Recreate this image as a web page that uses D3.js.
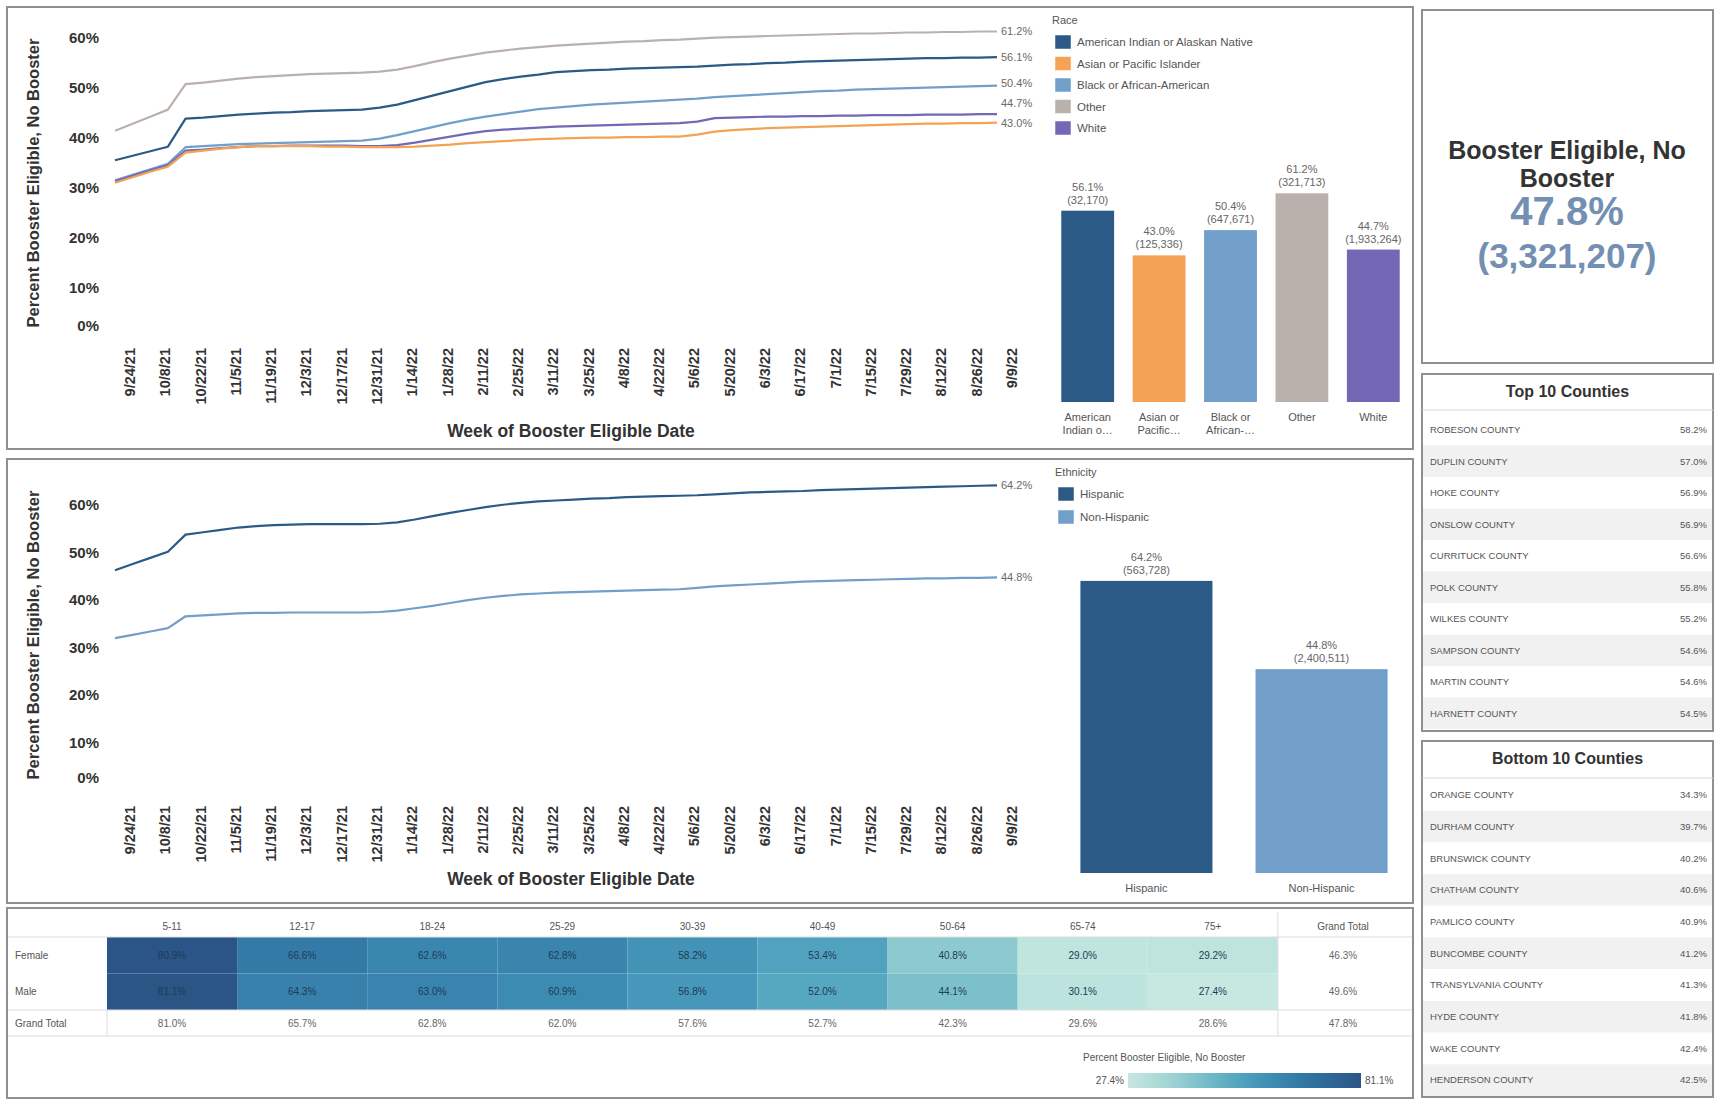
<!DOCTYPE html>
<html><head><meta charset="utf-8">
<script src="https://cdn.jsdelivr.net/npm/d3@7"></script>
<style>
html,body{margin:0;padding:0;background:#fff;}
svg{display:block;font-family:"Liberation Sans",Arial,sans-serif;}
</style></head><body>
<svg id="c" width="1716" height="1103"></svg>
<script>
// ---------------- DATA ----------------
const raceNames = ["American Indian or Alaskan Native","Asian or Pacific Islander","Black or African-American","Other","White"];
const raceBarLabels = [["American","Indian o…"],["Asian or","Pacific…"],["Black or","African-…"],["Other"],["White"]];
const raceColors = ["#2b5a86","#f4a253","#719fca","#bab1ac","#7468b6"];
const raceAIAN = [35.5,36.4,37.3,38.2,43.8,44.0,44.3,44.6,44.8,45.0, 45.1,45.3,45.4,45.5,45.6,46.0,46.6,47.5,48.4,49.3, 50.2,51.1,51.7,52.2,52.6,53.1,53.3,53.5,53.6,53.8, 53.9,54.0,54.1,54.2,54.4,54.6,54.7,54.9,55.0,55.2, 55.3,55.4,55.5,55.6,55.7,55.8,55.9,55.9,56.0,56.0,56.1];
const raceAsian = [31.0,32.1,33.2,34.2,37.0,37.4,37.8,38.1,38.3,38.3, 38.3,38.3,38.2,38.2,38.1,38.1,38.1,38.2,38.4,38.6, 38.9,39.1,39.3,39.5,39.7,39.8,39.9,40.0,40.0,40.1, 40.1,40.2,40.2,40.6,41.2,41.5,41.7,41.9,42.0,42.1, 42.2,42.3,42.4,42.5,42.6,42.7,42.8,42.8,42.9,42.9,43.0];
const raceBlack = [31.5,32.6,33.7,34.8,38.1,38.3,38.5,38.7,38.8,38.9, 39.0,39.1,39.2,39.3,39.4,39.8,40.5,41.3,42.1,42.9, 43.6,44.2,44.7,45.2,45.7,46.0,46.3,46.6,46.8,47.0, 47.2,47.4,47.6,47.8,48.1,48.3,48.5,48.7,48.9,49.1, 49.3,49.4,49.6,49.7,49.8,49.9,50.0,50.1,50.2,50.3,50.4];
const raceOther = [41.4,42.8,44.2,45.6,50.7,51.0,51.4,51.8,52.1,52.3, 52.5,52.7,52.8,52.9,53.0,53.2,53.6,54.3,55.1,55.8, 56.4,57.0,57.4,57.8,58.1,58.4,58.6,58.8,59.0,59.2, 59.3,59.5,59.6,59.8,60.0,60.1,60.2,60.3,60.4,60.5, 60.6,60.7,60.8,60.8,60.9,61.0,61.0,61.1,61.1,61.2,61.2];
const raceWhite = [31.3,32.4,33.5,34.5,37.4,37.6,37.9,38.1,38.3,38.3, 38.4,38.4,38.4,38.4,38.3,38.3,38.5,39.0,39.6,40.2, 40.8,41.3,41.6,41.8,42.0,42.2,42.3,42.4,42.5,42.6, 42.7,42.8,42.9,43.2,43.9,44.0,44.1,44.2,44.2,44.3, 44.3,44.4,44.4,44.5,44.5,44.5,44.6,44.6,44.6,44.7,44.7];
const raceTotalPct = [56.1, 43.0, 50.4, 61.2, 44.7];
const raceTotalCount = ["32,170","125,336","647,671","321,713","1,933,264"];

const ethNames = ["Hispanic","Non-Hispanic"];
const ethColors = ["#2b5a86","#719fca"];
const ethHispanic = [46.3,47.6,48.9,50.2,53.8,54.3,54.8,55.3,55.6,55.8, 55.9,56.0,56.0,56.0,56.0,56.1,56.4,57.0,57.7,58.4, 59.0,59.6,60.1,60.5,60.8,61.0,61.2,61.4,61.5,61.7, 61.8,61.9,62.0,62.1,62.3,62.5,62.7,62.8,62.9,63.0, 63.2,63.3,63.4,63.5,63.6,63.7,63.8,63.9,64.0,64.1,64.2];
const ethNonHispanic = [32.0,32.7,33.4,34.1,36.6,36.8,37.0,37.2,37.3,37.3, 37.4,37.4,37.4,37.4,37.4,37.5,37.8,38.3,38.8,39.4, 40.0,40.5,40.9,41.2,41.4,41.6,41.7,41.8,41.9,42.0, 42.1,42.2,42.3,42.6,42.9,43.1,43.3,43.5,43.7,43.9, 44.0,44.1,44.2,44.3,44.4,44.5,44.6,44.6,44.7,44.7,44.8];
const ethTotalPct = [64.2, 44.8];
const ethTotalCount = ["563,728","2,400,511"];

const firstWeekLabel = "9/24/21";
const weekCount = 51;
const dateTickLabels = ["9/24/21","10/8/21","10/22/21","11/5/21","11/19/21","12/3/21","12/17/21","12/31/21","1/14/22","1/28/22","2/11/22","2/25/22","3/11/22","3/25/22","4/8/22","4/22/22","5/6/22","5/20/22","6/3/22","6/17/22","7/1/22","7/15/22","7/29/22","8/12/22","8/26/22","9/9/22"];
const yTickValues = [0,10,20,30,40,50,60];

const kpiTitle = ["Booster Eligible, No","Booster"];
const kpiPct = 47.8;
const kpiCount = "3,321,207";

const topCounties = ["ROBESON COUNTY","DUPLIN COUNTY","HOKE COUNTY","ONSLOW COUNTY","CURRITUCK COUNTY","POLK COUNTY","WILKES COUNTY","SAMPSON COUNTY","MARTIN COUNTY","HARNETT COUNTY"];
const topPct = [58.2,57.0,56.9,56.9,56.6,55.8,55.2,54.6,54.6,54.5];
const bottomCounties = ["ORANGE COUNTY","DURHAM COUNTY","BRUNSWICK COUNTY","CHATHAM COUNTY","PAMLICO COUNTY","BUNCOMBE COUNTY","TRANSYLVANIA COUNTY","HYDE COUNTY","WAKE COUNTY","HENDERSON COUNTY"];
const bottomPct = [34.3,39.7,40.2,40.6,40.9,41.2,41.3,41.8,42.4,42.5];

const ageGroups = ["5-11","12-17","18-24","25-29","30-39","40-49","50-64","65-74","75+"];
const sexes = ["Female","Male"];
const femalePct = [80.9,66.6,62.6,62.8,58.2,53.4,40.8,29.0,29.2];
const malePct = [81.1,64.3,63.0,60.9,56.8,52.0,44.1,30.1,27.4];
const ageGrandTotal = [81.0,65.7,62.8,62.0,57.6,52.7,42.3,29.6,28.6];
const sexGrandTotal = [46.3,49.6];
const overallTotal = 47.8;
const heatLegendTitle = "Percent Booster Eligible, No Booster";

// ---------------- DRAW ----------------
const svg = d3.select("#c");
const fmt = d => d.toFixed(1) + "%";
const parseDate = d3.timeParse("%m/%d/%y");
const weeks = d3.range(weekCount).map(i => d3.timeDay.offset(parseDate(firstWeekLabel), 7 * i));
const x = d3.scaleTime().domain(d3.extent(weeks)).range([115, 997]);

// panel borders
const panels = [[7,7,1413,449],[7,459,1413,903],[7,908,1413,1098],[1422,10,1713,363],[1422,374,1713,731],[1422,741,1713,1097]];
svg.append("g").selectAll("rect").data(panels).join("rect")
  .attr("x", d => d[0]).attr("y", d => d[1]).attr("width", d => d[2]-d[0]).attr("height", d => d[3]-d[1])
  .attr("fill", "none").attr("stroke", "#8f8f8f").attr("stroke-width", 2);

function drawLineChart(oy, yMax, seriesList, colors, pctEnd, labelDy, titleY) {
  const y = d3.scaleLinear().domain([0, yMax]).range([oy + 338, oy + 20]);
  const g = svg.append("g");
  g.selectAll("text.yt").data(yTickValues).join("text")
    .attr("x", 99).attr("y", d => y(d)).attr("dy", d => d === 0 ? "-0.45em" : "0.35em")
    .attr("text-anchor", "end").attr("font-size", 15).attr("font-weight", "bold").attr("fill", "#333")
    .text(d => d + "%");
  g.append("text").attr("transform", `translate(33,${oy + 183}) rotate(-90)`)
    .attr("text-anchor", "middle").attr("dominant-baseline", "central")
    .attr("font-size", 16.5).attr("font-weight", "bold").attr("fill", "#333")
    .text("Percent Booster Eligible, No Booster");
  g.selectAll("text.xt").data(dateTickLabels).join("text")
    .attr("transform", d => `translate(${x(parseDate(d)) + 15},${oy + 348 + labelDy}) rotate(-90)`)
    .attr("text-anchor", "end").attr("dominant-baseline", "central")
    .attr("font-size", 14.5).attr("font-weight", "bold").attr("fill", "#333")
    .text(d => d);
  g.append("text").attr("x", 571).attr("y", titleY)
    .attr("text-anchor", "middle").attr("font-size", 17.5).attr("font-weight", "bold").attr("fill", "#333")
    .text("Week of Booster Eligible Date");
  const line = d3.line().x((d, i) => x(weeks[i])).y(d => y(d));
  g.selectAll("path.ln").data(seriesList).join("path")
    .attr("d", line).attr("fill", "none")
    .attr("stroke", (d, i) => colors[i]).attr("stroke-width", 2.2).attr("stroke-linejoin", "round");
  const labs = seriesList.map((s, i) => ({ v: pctEnd[i], y: y(s[s.length - 1]) }))
    .sort((a, b) => a.y - b.y);
  for (let i = labs.length - 2; i >= 0; i--) {
    if (labs[i].y > labs[i + 1].y - 20) labs[i].y = labs[i + 1].y - 20;
  }
  g.selectAll("text.el").data(labs).join("text")
    .attr("x", x(weeks[weeks.length - 1]) + 4).attr("y", d => d.y).attr("dy", "0.35em")
    .attr("font-size", 11).attr("fill", "#6a6a6a").text(d => fmt(d.v));
}

function drawLegend(ox, oy, title, names, colors, step) {
  const g = svg.append("g");
  g.append("text").attr("x", ox - 3).attr("y", oy).attr("font-size", 11).attr("fill", "#555").text(title);
  const it = g.selectAll("g.it").data(names).join("g")
    .attr("transform", (d, i) => `translate(${ox},${oy + 18 + i * step})`);
  it.append("rect").attr("x", 0).attr("y", -7).attr("width", 16).attr("height", 14)
    .attr("fill", (d, i) => colors[i]).attr("stroke", "#fff").attr("stroke-width", 0.5);
  it.append("text").attr("x", 22).attr("y", 0).attr("dy", "0.35em")
    .attr("font-size", 11.5).attr("fill", "#555").text(d => d);
}

function drawBars(names, labels, colors, pcts, counts, range, padIn, padOut, base, pxPerPct) {
  const bx = d3.scaleBand().domain(names).range(range).paddingInner(padIn).paddingOuter(padOut);
  const by = d3.scaleLinear().domain([0, 100]).range([base, base - 100 * pxPerPct]);
  const g = svg.append("g");
  g.selectAll("rect").data(names).join("rect")
    .attr("x", d => bx(d)).attr("width", bx.bandwidth())
    .attr("y", (d, i) => by(pcts[i])).attr("height", (d, i) => base - by(pcts[i]))
    .attr("fill", (d, i) => colors[i]);
  g.selectAll("text.l1").data(names).join("text")
    .attr("x", d => bx(d) + bx.bandwidth() / 2).attr("y", (d, i) => by(pcts[i]) - 20)
    .attr("text-anchor", "middle").attr("font-size", 11).attr("fill", "#666").text((d, i) => fmt(pcts[i]));
  g.selectAll("text.l2").data(names).join("text")
    .attr("x", d => bx(d) + bx.bandwidth() / 2).attr("y", (d, i) => by(pcts[i]) - 7)
    .attr("text-anchor", "middle").attr("font-size", 11).attr("fill", "#666").text((d, i) => "(" + counts[i] + ")");
  const cl = g.selectAll("text.cl").data(names).join("text")
    .attr("x", d => bx(d) + bx.bandwidth() / 2).attr("y", base + 19)
    .attr("text-anchor", "middle").attr("font-size", 11).attr("fill", "#555");
  cl.selectAll("tspan").data((d, i) => labels[i]).join("tspan")
    .attr("x", function () { return d3.select(this.parentNode).attr("x"); })
    .attr("dy", (d, j) => j === 0 ? 0 : 13).text(d => d);
}

// --- Race panel ---
drawLineChart(0, 63.5, [raceOther, raceAIAN, raceBlack, raceWhite, raceAsian],
  [raceColors[3], raceColors[0], raceColors[2], raceColors[4], raceColors[1]],
  [61.2, 56.1, 50.4, 44.7, 43.0], 0, 437);
drawLegend(1055, 24, "Race", raceNames, raceColors, 21.5);
drawBars(raceNames, raceBarLabels, raceColors, raceTotalPct, raceTotalCount, [1052, 1409], 0.26, 0.13, 402, 3.41);

// --- Ethnicity panel ---
drawLineChart(452, 67, [ethHispanic, ethNonHispanic], ethColors, [64.2, 44.8], 6, 885);
drawLegend(1058, 476, "Ethnicity", ethNames, ethColors, 23);
drawBars(ethNames, ethNames.map(d => [d]), ethColors, ethTotalPct, ethTotalCount, [1058, 1410], 0.246, 0.128, 873, 4.55);

// --- KPI ---
const kg = svg.append("g");
kg.selectAll("text.kt").data(kpiTitle).join("text")
  .attr("x", 1567).attr("y", (d, i) => 159 + i * 28).attr("text-anchor", "middle")
  .attr("font-size", 25).attr("font-weight", "bold").attr("fill", "#333").text(d => d);
kg.append("text").attr("x", 1567).attr("y", 225).attr("text-anchor", "middle")
  .attr("font-size", 40).attr("font-weight", "bold").attr("fill", "#7390b2").text(fmt(kpiPct));
kg.append("text").attr("x", 1567).attr("y", 268).attr("text-anchor", "middle")
  .attr("font-size", 35).attr("font-weight", "bold").attr("fill", "#7390b2").text("(" + kpiCount + ")");

// --- County tables ---
function drawTable(x0, x1, titleY, sepY, rowRange, title, names, vals) {
  const g = svg.append("g");
  const ry = d3.scaleBand().domain(names).range(rowRange);
  g.selectAll("rect").data(names).join("rect")
    .attr("x", x0 + 1).attr("width", x1 - x0 - 2).attr("y", d => ry(d)).attr("height", ry.bandwidth())
    .attr("fill", (d, i) => i % 2 === 1 ? "#f1f1f1" : "#fff");
  g.append("line").attr("x1", x0).attr("x2", x1).attr("y1", sepY).attr("y2", sepY).attr("stroke", "#d6d6d6");
  g.append("text").attr("x", (x0 + x1) / 2).attr("y", titleY).attr("text-anchor", "middle")
    .attr("font-size", 16).attr("font-weight", "bold").attr("fill", "#333").text(title);
  g.selectAll("text.n").data(names).join("text")
    .attr("x", x0 + 8).attr("y", d => ry(d) + ry.bandwidth() / 2).attr("dy", "0.35em")
    .attr("font-size", 9.5).attr("fill", "#555").text(d => d);
  g.selectAll("text.v").data(vals).join("text")
    .attr("x", x1 - 6).attr("y", (d, i) => ry(names[i]) + ry.bandwidth() / 2).attr("dy", "0.35em")
    .attr("text-anchor", "end").attr("font-size", 9.5).attr("fill", "#555").text(d => fmt(d));
}
drawTable(1422, 1713, 397, 410, [414, 729], "Top 10 Counties", topCounties, topPct);
drawTable(1422, 1713, 764, 778, [779, 1096], "Bottom 10 Counties", bottomCounties, bottomPct);

// --- Heatmap ---
const hg = svg.append("g");
const cols = ageGroups.concat(["Grand Total"]);
const hx = d3.scaleBand().domain(cols).range([107, 1408]);
const hy = d3.scaleBand().domain(sexes).range([937, 1010]);
const gtY = 1023;
const heatDomain = [d3.min(femalePct.concat(malePct)), d3.max(femalePct.concat(malePct))];
const heatInterp = d3.interpolateRgbBasis(["#c6e8e0","#9fd3d3","#5fb1c4","#3b8eb5","#2f6fa0","#2b5585"]);
const heatColor = v => heatInterp((v - heatDomain[0]) / (heatDomain[1] - heatDomain[0]));
const cells = [];
sexes.forEach((s, si) => ageGroups.forEach((a, ai) => cells.push({ s, a, v: (si === 0 ? femalePct : malePct)[ai] })));
hg.selectAll("rect.c").data(cells).join("rect")
  .attr("x", d => hx(d.a)).attr("y", d => hy(d.s)).attr("width", hx.bandwidth()).attr("height", hy.bandwidth())
  .attr("fill", d => heatColor(d.v));
hg.selectAll("text.c").data(cells).join("text")
  .attr("x", d => hx(d.a) + hx.bandwidth() / 2).attr("y", d => hy(d.s) + hy.bandwidth() / 2).attr("dy", "0.35em")
  .attr("text-anchor", "middle").attr("font-size", 10).attr("fill", "#1e3b57").text(d => fmt(d.v));
const hl = [937, 1010, 1036];
hg.selectAll("line.h").data(hl).join("line")
  .attr("x1", 8).attr("x2", 1412).attr("y1", d => d).attr("y2", d => d).attr("stroke", "#dcdcdc");
hg.append("line").attr("x1", hx("Grand Total")).attr("x2", hx("Grand Total")).attr("y1", 912).attr("y2", 1036).attr("stroke", "#dcdcdc");
hg.append("line").attr("x1", 107).attr("x2", 107).attr("y1", 1010).attr("y2", 1036).attr("stroke", "#dcdcdc");
hg.selectAll("text.hd").data(cols).join("text")
  .attr("x", d => hx(d) + hx.bandwidth() / 2).attr("y", 930).attr("text-anchor", "middle")
  .attr("font-size", 10).attr("fill", "#555").text(d => d);
hg.selectAll("text.rl").data(sexes.concat(["Grand Total"])).join("text")
  .attr("x", 15).attr("y", (d, i) => i < 2 ? hy(d) + hy.bandwidth() / 2 : gtY).attr("dy", "0.35em")
  .attr("font-size", 10).attr("fill", "#555").text(d => d);
hg.selectAll("text.sg").data(sexGrandTotal).join("text")
  .attr("x", hx("Grand Total") + hx.bandwidth() / 2).attr("y", (d, i) => hy(sexes[i]) + hy.bandwidth() / 2).attr("dy", "0.35em")
  .attr("text-anchor", "middle").attr("font-size", 10).attr("fill", "#666").text(d => fmt(d));
hg.selectAll("text.ag").data(ageGrandTotal.concat([overallTotal])).join("text")
  .attr("x", (d, i) => hx(cols[i]) + hx.bandwidth() / 2).attr("y", gtY).attr("dy", "0.35em")
  .attr("text-anchor", "middle").attr("font-size", 10).attr("fill", "#666").text(d => fmt(d));
const defs = svg.append("defs");
const grad = defs.append("linearGradient").attr("id", "hg").attr("x1", "0%").attr("x2", "100%");
grad.selectAll("stop").data(d3.range(0, 1.0001, 0.1)).join("stop")
  .attr("offset", d => (d * 100) + "%").attr("stop-color", d => heatInterp(d));
hg.append("text").attr("x", 1083).attr("y", 1061).attr("font-size", 10).attr("fill", "#555").text(heatLegendTitle);
hg.append("rect").attr("x", 1128).attr("y", 1073).attr("width", 233).attr("height", 15).attr("fill", "url(#hg)");
hg.append("text").attr("x", 1124).attr("y", 1080).attr("dy", "0.35em").attr("text-anchor", "end")
  .attr("font-size", 10).attr("fill", "#555").text(fmt(heatDomain[0]));
hg.append("text").attr("x", 1365).attr("y", 1080).attr("dy", "0.35em")
  .attr("font-size", 10).attr("fill", "#555").text(fmt(heatDomain[1]));
</script>
</body></html>
